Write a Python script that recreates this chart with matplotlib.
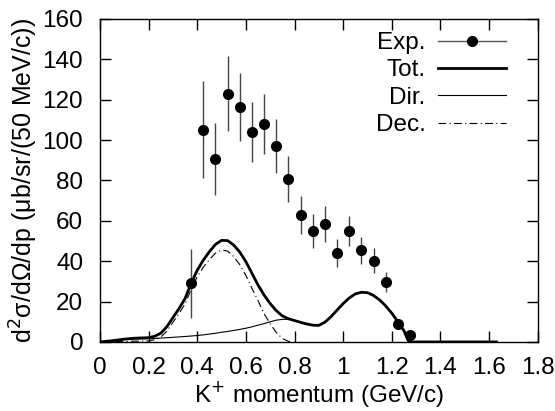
import matplotlib

matplotlib.use("Agg")
import matplotlib.pyplot as plt
from matplotlib.lines import Line2D
import numpy as np

# experimental points (50 MeV/c bins)
exp_p = [0.375, 0.425, 0.475, 0.525, 0.575, 0.625, 0.675, 0.725, 0.775, 0.825,
         0.875, 0.925, 0.975, 1.025, 1.075, 1.125, 1.175, 1.225, 1.275]
exp_val = [29, 105, 90.6, 123, 116.4, 104, 108, 97, 80.6, 63,
           55, 58.4, 44, 54.8, 45.4, 40.3, 29.7, 8.8, 3.5]
exp_err = [17, 24, 17.7, 18.5, 16.7, 14.7, 15, 13.2, 11.5, 9.5,
           8.5, 9, 7, 7.5, 6.7, 6, 4.8, 2, 1.5]

# calculated spectra
calc_p = [0.0, 0.05, 0.10, 0.15, 0.175, 0.20, 0.225, 0.25, 0.275, 0.30, 0.325,
          0.35, 0.375, 0.40, 0.425, 0.45, 0.475, 0.50, 0.525, 0.55, 0.575, 0.60,
          0.625, 0.65, 0.675, 0.70, 0.725, 0.75, 0.775, 0.80, 0.825, 0.85, 0.875,
          0.90, 0.925, 0.95, 0.975, 1.00, 1.025, 1.05, 1.075, 1.10, 1.125, 1.15,
          1.175, 1.20, 1.225, 1.25, 1.27, 1.63]
tot_val = [0.0, 0.6, 1.4, 1.9, 2.0, 2.1, 2.8, 4.3, 7.5, 12.0, 16.5,
           21.5, 29.0, 35.5, 40.5, 44.7, 48.3, 50.3, 50.2, 48.0, 44.5, 39.8,
           34.0, 28.2, 23.2, 19.0, 15.5, 12.9, 11.5, 10.6, 9.7, 8.9, 8.3,
           8.2, 9.8, 12.5, 15.8, 19.0, 21.8, 23.8, 24.6, 24.4, 23.0, 20.8,
           17.8, 14.2, 10.0, 5.5, 0.0, 0.0]
dir_val = [0.0, 0.6, 1.2, 1.5, 1.55, 1.6, 1.7, 1.9, 2.1, 2.3, 2.5,
           2.7, 2.95, 3.2, 3.5, 3.9, 4.3, 4.8, 5.2, 5.7, 6.2, 6.8,
           7.5, 8.3, 9.1, 10.0, 10.8, 11.2, 11.2, 10.6, 9.7, 8.9, 8.3,
           8.2, 9.8, 12.5, 15.8, 19.0, 21.8, 23.8, 24.6, 24.4, 23.0, 20.8,
           17.8, 14.2, 10.0, 5.5, 0.0, 0.0]
dec_p = [0.0, 0.10, 0.15, 0.20, 0.225, 0.25, 0.275, 0.30, 0.325, 0.35, 0.375,
         0.40, 0.425, 0.45, 0.475, 0.50, 0.525, 0.55, 0.575, 0.60, 0.625, 0.65,
         0.675, 0.70, 0.725, 0.75, 0.775, 0.79]
dec_val = [0.0, 0.3, 0.4, 0.5, 1.1, 2.4, 5.3, 9.7, 14.0, 18.8, 26.0,
           32.3, 37.0, 40.8, 44.0, 45.5, 45.0, 42.3, 38.3, 33.0, 26.5, 20.5,
           14.0, 9.0, 4.7, 1.7, 0.3, 0.0]

plt.rcParams["font.family"] = ["Liberation Sans", "DejaVu Sans"]
FS = 17.5

fig = plt.figure(figsize=(5.55, 4.11), dpi=100)
ax = fig.add_axes([0.180, 0.168, 0.789, 0.786])

ax.errorbar(exp_p, exp_val, yerr=exp_err, fmt="o", color="black", ecolor="#444444",
            elinewidth=1.0, markersize=7, capsize=0, zorder=4)
ax.plot(calc_p, tot_val, color="black", linewidth=2.0, zorder=3)
ax.plot(calc_p, dir_val, color="black", linewidth=0.8, zorder=2)
dec_style = (0, (7, 3, 1, 3))
ax.plot(dec_p, dec_val, color="black", linewidth=0.8, linestyle=dec_style, zorder=2)

ax.set_xlim(0, 1.8)
ax.set_ylim(0, 160)
ax.set_xticks(np.arange(0, 1.81, 0.2))
ax.set_xticklabels(["0", "0.2", "0.4", "0.6", "0.8", "1", "1.2", "1.4", "1.6", "1.8"])
ax.set_yticks(np.arange(0, 161, 20))
ax.tick_params(direction="in", length=8, width=1, top=True, right=True,
               labelsize=FS)
ax.tick_params(axis="x", pad=11)
ax.tick_params(axis="y", pad=12)
for spine in ax.spines.values():
    spine.set_linewidth(1.0)

ax.set_xlabel("K$^{+}$ momentum (GeV/c)", fontsize=FS, labelpad=0)
ax.set_ylabel("d$^{2}$σ/dΩ/dp (μb/sr/(50 MeV/c))", fontsize=18, labelpad=2)

handles = [
    Line2D([], [], color="#555555", linewidth=1.0, marker="o", markersize=7,
           markerfacecolor="black", markeredgecolor="black"),
    Line2D([], [], color="black", linewidth=2.0),
    Line2D([], [], color="black", linewidth=0.8),
    Line2D([], [], color="black", linewidth=0.8, linestyle=dec_style),
]
leg = ax.legend(handles, ["Exp.", "Tot.", "Dir.", "Dec."], loc="upper right",
                frameon=False, markerfirst=False, fontsize=FS,
                handlelength=2.8, handletextpad=0.5, labelspacing=0.22,
                borderaxespad=0.3, bbox_to_anchor=(0.966, 1.012))

fig.savefig("out.png", dpi=100)
